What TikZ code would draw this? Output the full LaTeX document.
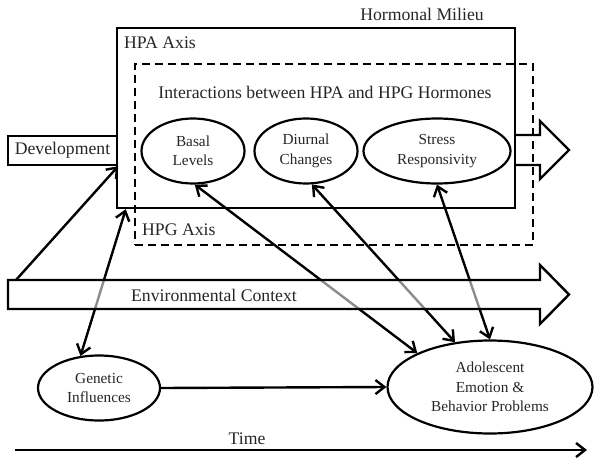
\documentclass[tikz,border=0pt]{standalone}
\usepackage{fontspec}
\setmainfont{Liberation Serif}
\usetikzlibrary{arrows.meta,calc,shapes.geometric}
\begin{document}
\begin{tikzpicture}[x=1pt,y=-1pt,
  >={Straight Barb[length=9pt,width=14pt]},
  every node/.style={text=black!85},
  box/.style={draw, line width=2.4pt, inner sep=0pt},
  dashbox/.style={draw, line width=2.4pt, inner sep=0pt, dash pattern=on 8pt off 5pt},
  oval/.style={draw, ellipse, line width=2.2pt, inner sep=0pt, align=center, font=\fontsize{15.3}{19.5}\selectfont},
  lbl/.style={font=\fontsize{17.7}{20}\selectfont, inner sep=0pt},
  conn/.style={line width=2.4pt},
  bigarrow/.style={draw, line width=2.4pt, line join=miter}
]
\useasboundingbox (0,0) rectangle (602,463);

% boxes
\node[box, minimum width=398pt, minimum height=180pt] (hpa) at (316,118) {};
\node[box, lbl, minimum width=109pt, minimum height=29pt] (dev) at (62.5,150.5) {Development};

% hollow arrow out of hormonal milieu
\draw[bigarrow] (515,135) -- (540,135) -- (540,121) -- (569,150) -- (540,179) -- (540,165) -- (515,165);

\node[dashbox, minimum width=398pt, minimum height=181pt] (hpg) at (334,154.5) {};

% labels
\node[lbl] (milieu) at (422,14) {Hormonal Milieu};
\node[lbl, anchor=west] (hpalbl) at (124,43) {HPA Axis};
\node[lbl] (inter) at (325,92) {Interactions between HPA and HPG Hormones};
\node[lbl, anchor=west] (hpglbl) at (142,230) {HPG Axis};

% ellipses
\node[oval, minimum width=103pt, minimum height=65pt] (basal) at (193,151) {Basal\\Levels};
\node[oval, minimum width=103pt, minimum height=65pt] (diurnal) at (306,151) {Diurnal\\Changes};
\node[oval, minimum width=147pt, minimum height=65pt] (stress) at (437,151) {Stress\\Responsivity};
\node[oval, minimum width=122pt, minimum height=65pt] (genetic) at (99,388) {Genetic\\Influences};
\node[oval, minimum width=205pt, minimum height=93pt] (adol) at (490,387) {Adolescent\\Emotion \&\\Behavior Problems};

\coordinate (envtop) at (16,280);

% connectors
\draw[conn, ->] (envtop) -- (dev.south east);
\draw[conn, <->] (genetic.120) -- ($(hpa.south west)+(10,0)$);
\draw[conn, <->] (basal.-87) -- (adol.155);
\draw[conn, <->] (diurnal.-80) -- (adol.128);
\draw[conn, <->] (stress.south) -- (adol.north);
\draw[conn, ->] (genetic.east) -- (adol.west);

% environmental context arrow (semi-opaque, greys the lines under it)
\draw[bigarrow, fill=white, fill opacity=0.55] (8,280) -- (540,280) -- (540,265) -- (569,294.5) -- (540,324) -- (540,309) -- (8,309) -- cycle;
\node[lbl] (envlbl) at (214,295) {Environmental Context};

% time
\coordinate (t0) at (15,450);
\coordinate (t1) at (587,450);
\draw[conn, ->] (t0) -- (t1);
\node[lbl] (time) at (247,439) {Time};
\end{tikzpicture}
\end{document}
